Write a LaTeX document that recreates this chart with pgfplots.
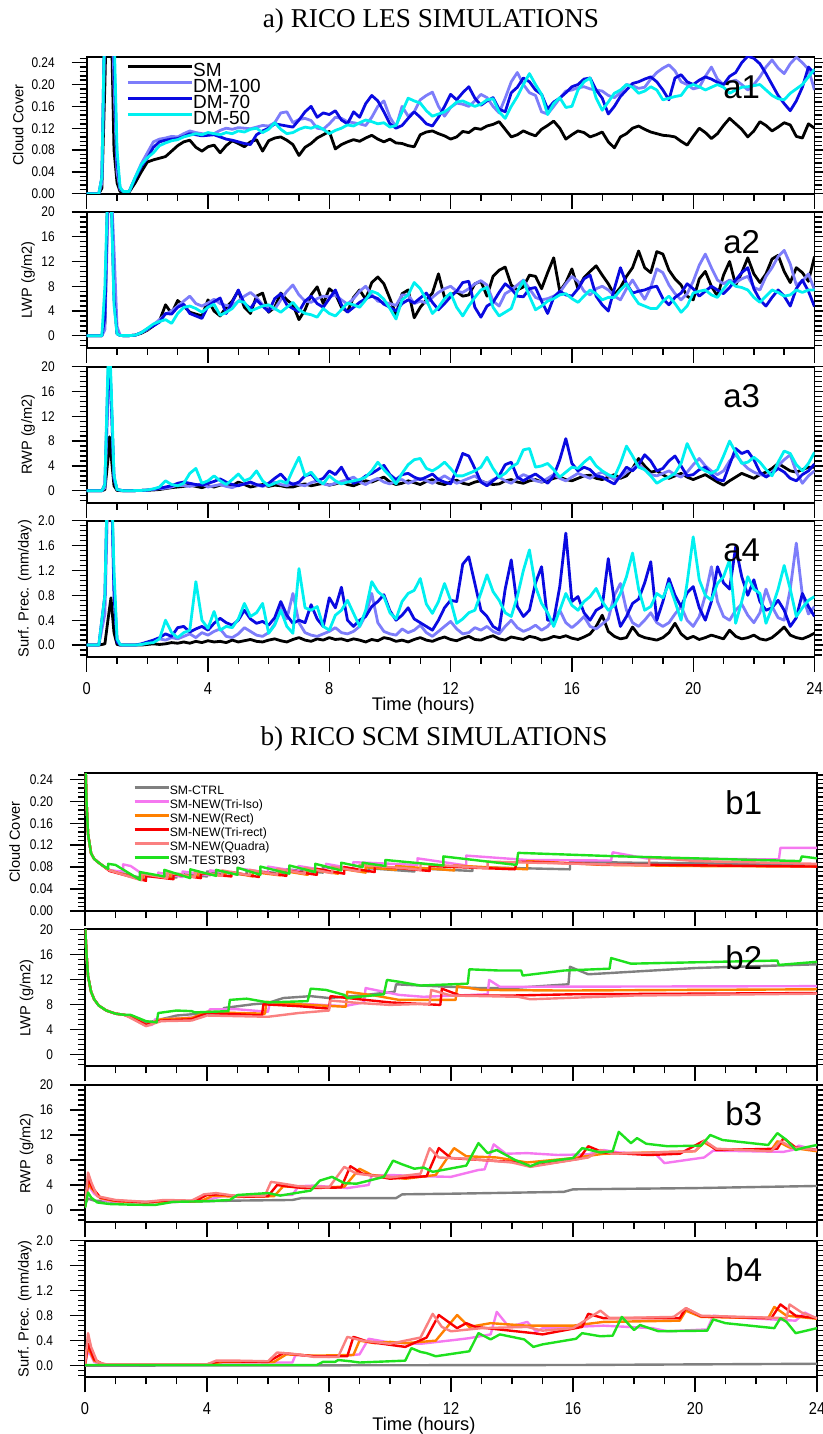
\documentclass[border=0pt]{standalone}
\usepackage{fontspec}
\setmainfont{Liberation Sans}
\newfontfamily\nclfont[FakeStretch=0.85]{Liberation Sans}
\newfontfamily\titlefont{Liberation Serif}
\usepackage{pgfplots}
\usepackage{pgfplotstable}
\pgfplotsset{compat=1.18}

\definecolor{cSM}{RGB}{0,0,0}
\definecolor{cD100}{RGB}{125,125,250}
\definecolor{cD70}{RGB}{10,10,225}
\definecolor{cD50}{RGB}{0,240,240}
\definecolor{cCTRL}{RGB}{128,128,128}
\definecolor{cIso}{RGB}{245,120,240}
\definecolor{cRect}{RGB}{255,128,0}
\definecolor{cTriR}{RGB}{250,0,0}
\definecolor{cQuad}{RGB}{250,128,128}
\definecolor{cB93}{RGB}{30,225,30}

% ---------------- LES time series (hours) ----------------
\pgfplotstableread{
t sm d100 d70 d50
0 0 0 0 0
0.4 0 0 0 0
0.5 0.01 0.02 0.03 0.03
0.6 0.2 0.3 0.35 0.35
0.7 0.45 0.5 0.55 0.55
0.8 0.35 0.45 0.5 0.5
0.9 0.08 0.2 0.25 0.3
1.0 0.02 0.04 0.06 0.08
1.1 0.004 0.008 0.01 0.012
1.2 0.003 0.004 0.004 0.004
1.4 0.003 0.004 0.004 0.004
1.6 0.02 0.03 0.028 0.03
1.8 0.04 0.055 0.05 0.053
2.0 0.058 0.075 0.065 0.066
2.2 0.062 0.095 0.085 0.075
2.4 0.065 0.100 0.095 0.088
2.6 0.068 0.102 0.098 0.093
2.8 0.078 0.105 0.100 0.097
3.0 0.088 0.104 0.101 0.099
3.2 0.095 0.110 0.105 0.104
3.4 0.098 0.115 0.110 0.107
3.6 0.085 0.112 0.108 0.110
3.8 0.078 0.110 0.106 0.108
4.0 0.086 0.108 0.107 0.112
4.2 0.089 0.110 0.108 0.110
4.4 0.075 0.116 0.104 0.108
4.6 0.088 0.120 0.100 0.112
4.8 0.097 0.118 0.098 0.110
5.0 0.092 0.121 0.095 0.115
5.2 0.086 0.120 0.092 0.113
5.4 0.095 0.119 0.090 0.118
5.6 0.099 0.122 0.108 0.120
5.8 0.078 0.125 0.115 0.112
6.0 0.097 0.124 0.120 0.118
6.2 0.102 0.130 0.128 0.130
6.4 0.104 0.148 0.126 0.118
6.6 0.098 0.150 0.124 0.110
6.8 0.090 0.130 0.122 0.112
7.0 0.070 0.136 0.135 0.118
7.2 0.085 0.138 0.150 0.122
7.4 0.092 0.134 0.160 0.120
7.6 0.102 0.120 0.140 0.124
7.8 0.108 0.118 0.148 0.118
8.0 0.114 0.128 0.145 0.110
8.2 0.082 0.140 0.152 0.116
8.4 0.090 0.138 0.135 0.120
8.6 0.095 0.132 0.128 0.126
8.8 0.099 0.130 0.150 0.124
9.0 0.096 0.128 0.140 0.130
9.2 0.102 0.125 0.165 0.135
9.4 0.107 0.140 0.180 0.132
9.6 0.100 0.160 0.170 0.128
9.8 0.095 0.170 0.150 0.130
10.0 0.100 0.140 0.128 0.122
10.2 0.093 0.122 0.120 0.125
10.4 0.092 0.160 0.125 0.150
10.6 0.088 0.142 0.138 0.175
10.8 0.086 0.150 0.150 0.170
11.0 0.108 0.172 0.140 0.166
11.2 0.113 0.180 0.128 0.152
11.4 0.115 0.186 0.124 0.142
11.6 0.110 0.160 0.140 0.146
11.8 0.106 0.142 0.160 0.150
12.0 0.100 0.158 0.182 0.158
12.2 0.104 0.166 0.172 0.168
12.4 0.114 0.164 0.185 0.170
12.6 0.112 0.160 0.196 0.165
12.8 0.120 0.170 0.175 0.160
13.0 0.118 0.182 0.162 0.164
13.2 0.124 0.176 0.170 0.172
13.4 0.127 0.160 0.176 0.174
13.6 0.132 0.148 0.155 0.150
13.8 0.118 0.175 0.150 0.138
14.0 0.104 0.205 0.185 0.160
14.2 0.108 0.222 0.195 0.178
14.4 0.115 0.200 0.212 0.200
14.6 0.110 0.185 0.205 0.220
14.8 0.106 0.180 0.190 0.200
15.0 0.118 0.150 0.182 0.182
15.2 0.125 0.146 0.155 0.145
15.4 0.133 0.160 0.168 0.165
15.6 0.120 0.175 0.175 0.176
15.8 0.100 0.188 0.185 0.158
16.0 0.108 0.190 0.196 0.160
16.2 0.115 0.194 0.200 0.190
16.4 0.112 0.196 0.210 0.205
16.6 0.104 0.192 0.212 0.212
16.8 0.108 0.190 0.190 0.175
17.0 0.113 0.188 0.175 0.153
17.2 0.095 0.180 0.146 0.168
17.4 0.084 0.176 0.160 0.184
17.6 0.104 0.185 0.178 0.190
17.8 0.110 0.200 0.190 0.200
18.0 0.120 0.198 0.202 0.195
18.2 0.124 0.193 0.205 0.184
18.4 0.118 0.195 0.210 0.188
18.6 0.113 0.210 0.214 0.196
18.8 0.110 0.222 0.205 0.190
19.0 0.107 0.230 0.190 0.172
19.2 0.106 0.236 0.172 0.175
19.4 0.104 0.225 0.212 0.178
19.6 0.096 0.205 0.218 0.180
19.8 0.089 0.200 0.205 0.195
20.0 0.105 0.192 0.200 0.200
20.2 0.120 0.195 0.208 0.196
20.4 0.112 0.215 0.214 0.190
20.6 0.101 0.232 0.210 0.195
20.8 0.110 0.210 0.204 0.200
21.0 0.125 0.200 0.200 0.195
21.2 0.138 0.205 0.215 0.184
21.4 0.128 0.208 0.222 0.190
21.6 0.118 0.200 0.240 0.195
21.8 0.104 0.190 0.252 0.196
22.0 0.115 0.200 0.248 0.198
22.2 0.132 0.214 0.238 0.200
22.4 0.125 0.232 0.220 0.190
22.6 0.115 0.245 0.200 0.180
22.8 0.122 0.230 0.180 0.174
23.0 0.130 0.220 0.165 0.172
23.2 0.126 0.238 0.152 0.184
23.4 0.105 0.250 0.170 0.192
23.6 0.102 0.240 0.195 0.200
23.8 0.128 0.228 0.232 0.214
24.0 0.120 0.190 0.220 0.228
}\lesCC

\pgfplotstableread{
t sm d100 d70 d50
0 0 0 0 0
0.4 0 0 0 0
0.5 0 0 0 0
0.6 2 1 3 8
0.7 24 20 25 25
0.8 26 25 25 24
0.9 8 14 6 5
1.0 0.4 1.5 0.3 0.3
1.1 0.05 0.1 0.05 0.05
1.2 0.02 0.02 0.02 0.02
1.4 0.02 0.02 0.02 0.02
1.6 0.1 0.1 0.1 0.1
1.8 0.4 0.5 0.5 0.5
2.0 0.9 1.0 1.1 1.2
2.2 1.6 1.8 1.6 1.9
2.4 2.4 2.6 2.2 2.3
2.6 5.0 3.5 3.6 2.6
2.8 3.6 4.0 3.5 2.0
3.0 5.7 4.8 4.6 3.6
3.2 4.8 5.6 5.1 4.6
3.4 3.8 6.4 3.6 4.8
3.6 3.5 5.2 3.2 4.4
3.8 3.2 4.8 2.8 3.8
4.0 5.8 5.3 4.8 4.6
4.2 4.0 5.9 5.5 5.1
4.4 3.2 5.2 6.1 3.3
4.6 4.6 4.9 3.6 3.8
4.8 5.6 4.8 5.4 4.4
5.0 7.3 5.6 7.4 5.6
5.2 4.6 6.4 5.2 5.4
5.4 3.6 7.0 4.4 4.0
5.6 6.4 6.2 5.8 4.4
5.8 6.9 5.0 4.8 4.8
6.0 3.8 4.6 3.9 5.0
6.2 4.6 4.3 6.0 4.4
6.4 6.9 5.8 6.8 3.8
6.6 5.8 7.2 5.0 4.6
6.8 5.0 8.2 4.4 5.4
7.0 2.6 6.6 3.9 4.2
7.2 4.2 5.6 5.6 3.6
7.4 6.6 5.4 6.4 3.4
7.6 7.9 6.0 5.2 3.0
7.8 5.2 6.4 4.6 4.4
8.0 7.6 6.3 6.0 3.6
8.2 6.8 6.6 7.4 3.2
8.4 4.6 5.8 5.0 4.2
8.6 3.9 5.1 3.8 5.3
8.8 6.2 6.0 4.6 5.0
9.0 7.4 7.2 5.4 4.6
9.2 5.9 8.0 6.0 5.8
9.4 8.6 6.6 6.4 7.2
9.6 9.5 5.6 6.0 6.8
9.8 8.4 5.4 5.1 5.9
10.0 6.0 5.2 4.6 4.4
10.2 3.4 4.9 4.0 2.7
10.4 6.8 6.6 5.2 5.8
10.6 7.4 6.6 5.8 6.6
10.8 2.9 5.2 5.3 8.6
11.0 4.6 5.6 6.1 7.6
11.2 5.8 5.3 6.9 5.8
11.4 6.9 6.2 5.4 3.6
11.6 10.0 7.0 4.2 4.6
11.8 6.2 7.6 5.2 6.0
12.0 6.6 8.0 6.3 6.9
12.2 7.1 7.2 7.2 4.6
12.4 6.4 7.0 8.6 3.2
12.6 6.6 7.6 8.8 4.8
12.8 8.4 8.4 4.6 6.2
13.0 8.8 8.9 3.0 7.4
13.2 6.4 8.2 4.8 7.8
13.4 9.6 5.6 5.4 4.6
13.6 10.6 4.8 7.0 3.2
13.8 11.1 6.8 8.4 3.8
14.0 8.2 7.4 7.6 4.4
14.2 7.4 8.2 6.4 7.2
14.4 7.9 9.0 6.3 8.9
14.6 9.8 7.6 7.6 6.4
14.8 9.6 6.2 7.8 4.2
15.0 7.6 5.8 5.6 4.8
15.2 10.2 6.0 3.6 5.6
15.4 12.6 6.4 6.2 6.0
15.6 7.2 7.0 7.2 6.6
15.8 8.6 8.4 6.6 6.8
16.0 10.8 9.6 6.4 6.0
16.2 7.6 8.8 7.6 5.4
16.4 9.4 7.2 9.2 6.4
16.6 10.4 6.6 9.8 7.4
16.8 11.3 7.6 6.4 6.8
17.0 9.8 8.0 5.0 5.8
17.2 8.4 7.4 4.0 6.2
17.4 6.6 6.4 7.6 6.2
17.6 7.8 5.8 11.0 7.4
17.8 9.6 7.6 8.4 8.4
18.0 11.0 9.0 6.9 6.6
18.2 13.7 7.4 7.2 5.2
18.4 11.0 5.9 7.4 4.8
18.6 10.2 7.8 7.8 4.4
18.8 13.6 10.8 8.0 4.4
19.0 13.2 10.2 6.0 5.6
19.2 10.6 8.2 5.0 6.4
19.4 9.2 6.8 6.2 5.2
19.6 8.2 5.8 6.9 3.8
19.8 6.4 6.8 8.4 4.8
20.0 5.8 8.8 7.6 6.9
20.2 9.2 11.4 6.4 7.2
20.4 10.4 13.2 7.2 7.4
20.6 8.0 11.0 8.0 6.6
20.8 6.4 9.0 7.4 6.2
21.0 9.8 8.4 6.8 7.6
21.2 12.0 9.0 7.8 8.8
21.4 8.2 8.6 9.0 8.0
21.6 10.2 9.2 10.2 7.8
21.8 12.6 9.6 11.0 7.4
22.0 10.0 7.8 7.6 6.2
22.2 8.6 7.4 5.8 5.4
22.4 10.0 9.6 4.8 6.4
22.6 12.4 11.0 6.2 7.4
22.8 13.0 12.8 7.4 7.0
23.0 10.4 13.8 6.4 6.4
23.2 8.6 11.6 4.8 6.6
23.4 11.0 8.2 7.6 7.4
23.6 10.2 8.8 9.0 7.0
23.8 8.8 10.0 7.2 7.4
24.0 12.8 7.4 4.7 7.4
}\lesLWP

\pgfplotstableread{
t sm d100 d70 d50
0 0 0 0 0
0.5 0 0 0 0
0.6 0.2 0.5 1 1
0.7 5 14 18 20
0.75 8.7 21 22 24
0.8 6 16 16 18
0.9 0.8 2 2 2.5
1.0 0.05 0.2 0.2 0.2
1.2 0 0 0 0
1.4 0 0 0 0
1.6 0.02 0.02 0.02 0.02
1.8 0.05 0.05 0.05 0.05
2.0 0.08 0.1 0.1 0.12
2.2 0.12 0.2 0.25 0.3
2.4 0.2 0.35 0.4 0.6
2.6 0.35 0.4 0.6 1.6
2.8 0.5 0.6 0.8 1.0
3.0 0.6 0.9 1.2 0.8
3.2 0.7 0.8 1.4 1.2
3.4 0.9 0.7 1.2 2.8
3.6 0.7 0.9 1.0 3.6
3.8 0.5 1.1 0.9 1.2
4.0 0.8 0.6 1.2 1.6
4.2 0.6 0.8 1.5 2.4
4.4 0.9 1.0 1.9 1.6
4.6 1.0 0.7 1.4 1.0
4.8 0.8 0.5 1.0 1.8
5.0 1.4 0.9 0.8 2.7
5.2 1.0 1.1 1.1 1.6
5.4 0.6 1.3 1.4 2.0
5.6 0.8 0.9 1.0 3.2
5.8 1.0 0.7 0.8 1.6
6.0 0.7 1.0 1.2 0.8
6.2 0.9 1.4 2.0 1.2
6.4 0.8 1.0 2.7 1.6
6.6 0.6 0.8 1.6 1.2
6.8 0.6 1.2 1.0 3.4
7.0 0.9 1.0 1.4 5.4
7.2 1.1 0.8 2.4 2.4
7.4 0.8 1.3 2.7 3.0
7.6 1.0 1.6 1.6 1.8
7.8 1.2 1.1 2.0 1.1
8.0 0.9 0.9 3.2 2.4
8.2 1.1 1.2 2.6 1.6
8.4 1.4 1.5 3.8 1.1
8.6 1.0 1.8 2.0 1.4
8.8 0.8 2.2 1.2 1.6
9.0 1.2 1.4 1.6 1.8
9.2 1.6 1.0 2.4 2.2
9.4 1.4 1.6 2.8 3.2
9.6 1.8 2.0 3.4 4.6
9.8 2.2 1.4 4.1 3.4
10.0 1.4 1.1 2.6 2.4
10.2 1.0 1.6 1.8 1.1
10.4 1.2 1.8 2.6 2.8
10.6 1.6 1.2 2.8 4.2
10.8 1.3 1.6 2.2 5.0
11.0 1.0 2.0 1.8 5.2
11.2 1.5 1.6 2.2 3.6
11.4 1.8 1.2 2.7 3.2
11.6 1.2 1.8 1.8 3.8
11.8 1.0 2.4 1.4 4.6
12.0 1.4 1.8 1.1 3.6
12.2 1.7 1.2 3.4 2.4
12.4 1.2 1.6 6.0 2.4
12.6 1.0 2.0 5.6 2.8
12.8 1.4 2.4 3.6 3.2
13.0 1.6 1.6 1.4 3.8
13.2 1.2 1.2 0.8 5.4
13.4 1.0 1.8 1.6 3.6
13.6 1.1 2.2 2.4 2.2
13.8 1.6 1.6 4.2 2.8
14.0 1.8 1.2 4.6 3.8
14.2 1.4 2.0 2.2 4.4
14.4 1.2 2.6 1.6 6.6
14.6 1.6 2.2 2.2 6.8
14.8 1.8 1.6 2.7 3.8
15.0 1.4 1.4 2.0 4.0
15.2 1.6 2.0 1.2 4.4
15.4 2.0 2.6 2.4 3.4
15.6 2.2 2.0 5.0 2.2
15.8 1.8 1.6 8.4 3.0
16.0 1.6 2.2 4.4 3.8
16.2 2.0 2.8 3.2 3.6
16.4 2.4 2.4 3.8 4.6
16.6 2.5 2.0 3.4 5.4
16.8 2.0 2.6 2.4 4.0
17.0 1.8 3.0 2.2 3.2
17.2 2.2 2.4 1.6 2.6
17.4 2.6 1.8 1.1 2.2
17.6 2.0 2.2 2.4 4.4
17.8 2.4 3.0 3.8 7.2
18.0 3.6 3.6 3.2 5.6
18.2 5.2 4.3 4.2 3.8
18.4 4.0 3.4 5.8 3.4
18.6 3.0 2.6 4.8 2.4
18.8 3.2 2.4 3.2 1.2
19.0 2.6 2.8 3.6 1.8
19.2 2.0 3.2 4.8 2.2
19.4 2.4 2.6 5.6 2.8
19.6 2.8 2.2 4.0 4.4
19.8 2.2 3.0 2.4 7.6
20.0 1.8 4.2 2.6 5.6
20.2 2.2 5.2 3.4 3.8
20.4 2.6 4.0 3.8 3.2
20.6 2.0 3.2 2.6 2.8
20.8 1.4 2.6 1.8 3.4
21.0 0.9 3.2 1.6 5.6
21.2 1.6 4.8 4.2 8.0
21.4 2.2 5.8 6.8 6.2
21.6 2.8 4.6 6.0 4.4
21.8 2.4 3.6 6.4 4.6
22.0 2.0 3.0 5.0 5.4
22.2 2.6 2.6 3.0 4.6
22.4 3.0 2.4 2.2 3.4
22.6 3.6 3.0 2.8 2.4
22.8 4.4 4.0 3.6 4.6
23.0 3.8 5.0 3.0 6.4
23.2 3.2 5.8 2.0 6.0
23.4 3.0 3.0 1.6 4.2
23.6 3.4 1.2 2.6 3.2
23.8 3.8 2.4 3.2 4.4
24.0 3.8 3.2 4.3 6.2
}\lesRWP

\pgfplotstableread{
t sm d100 d70 d50
0 0 0 0 0
0.4 0 0 0 0
0.6 0.02 0.5 0.8 0.8
0.7 0.4 2.5 3 3
0.8 0.76 3 3 3
0.9 0.2 1.0 0.8 1.2
1.0 0.01 0.1 0.05 0.1
1.1 0 0.01 0 0.01
1.2 0 0 0 0
1.4 0 0 0 0
1.6 0 0 0 0
1.8 0 0.01 0.02 0.01
2.0 0.01 0.03 0.05 0.03
2.2 0.02 0.06 0.08 0.04
2.4 0.01 0.10 0.12 0.1
2.6 0.02 0.08 0.18 0.40
2.8 0.04 0.12 0.14 0.2
3.0 0.03 0.10 0.28 0.12
3.2 0.05 0.14 0.30 0.2
3.4 0.03 0.18 0.21 0.24
3.6 0.06 0.12 0.26 1.02
3.8 0.04 0.2 0.30 0.40
4.0 0.07 0.16 0.24 0.27
4.2 0.05 0.22 0.35 0.54
4.4 0.06 0.26 0.43 0.24
4.6 0.04 0.14 0.36 0.3
4.8 0.08 0.12 0.32 0.28
5.0 0.05 0.18 0.40 0.42
5.2 0.07 0.28 0.56 0.67
5.4 0.09 0.22 0.42 0.46
5.6 0.06 0.16 0.35 0.52
5.8 0.05 0.14 0.38 0.67
6.0 0.08 0.2 0.32 0.19
6.2 0.1 0.34 0.44 0.32
6.4 0.07 0.62 0.70 0.56
6.6 0.05 0.42 0.48 0.30
6.8 0.09 0.83 0.35 0.19
7.0 0.12 0.36 0.40 1.23
7.2 0.08 0.2 0.36 0.6
7.4 0.06 0.16 0.65 0.56
7.6 0.1 0.14 0.42 0.62
7.8 0.08 0.18 0.30 0.3
8.0 0.12 0.22 0.76 0.24
8.2 0.09 0.28 0.60 0.48
8.4 0.1 0.2 0.93 0.56
8.6 0.07 0.18 0.40 0.72
8.8 0.1 0.22 0.30 0.51
9.0 0.08 0.3 0.40 0.30
9.2 0.05 0.48 0.46 0.56
9.4 0.09 0.83 0.62 1.02
9.6 0.07 0.36 0.70 0.86
9.8 0.12 0.22 0.81 0.78
10.0 0.1 0.18 0.55 0.52
10.2 0.06 0.16 0.40 0.42
10.4 0.08 0.26 0.48 0.70
10.6 0.05 0.2 0.60 0.83
10.8 0.09 0.24 0.42 0.88
11.0 0.12 0.32 0.36 1.07
11.2 0.08 0.2 0.30 0.66
11.4 0.06 0.14 0.24 0.51
11.6 0.1 0.22 0.40 0.70
11.8 0.13 0.3 0.60 0.99
12.0 0.09 0.38 0.72 0.72
12.2 0.07 0.26 0.70 0.35
12.4 0.11 0.18 1.30 0.42
12.6 0.14 0.2 1.42 0.52
12.8 0.09 0.28 0.99 0.56
13.0 0.08 0.24 0.56 0.84
13.2 0.12 0.3 0.46 1.13
13.4 0.15 0.22 0.30 0.86
13.6 0.1 0.18 0.24 0.72
13.8 0.08 0.3 0.90 0.52
14.0 0.13 0.4 1.37 0.46
14.2 0.11 0.28 0.62 0.78
14.4 0.09 0.22 0.46 1.20
14.6 0.14 0.26 0.56 1.53
14.8 0.12 0.32 1.00 0.94
15.0 0.08 0.24 1.26 0.67
15.2 0.1 0.3 0.40 0.52
15.4 0.14 0.42 0.40 0.30
15.6 0.12 0.56 0.94 0.56
15.8 0.15 0.36 1.80 0.83
16.0 0.11 0.28 0.70 0.64
16.2 0.09 0.36 0.78 0.56
16.4 0.13 0.46 0.52 0.70
16.6 0.18 0.3 0.40 0.78
16.8 0.3 0.26 0.56 0.91
17.0 0.48 0.34 0.62 0.70
17.2 0.22 0.42 1.39 0.56
17.4 0.14 0.8 0.70 0.64
17.6 0.1 0.99 0.30 0.83
17.8 0.12 0.56 0.46 1.10
18.0 0.29 0.36 0.67 1.48
18.2 0.16 0.3 0.74 0.90
18.4 0.12 0.4 1.00 0.56
18.6 0.1 0.52 1.34 0.62
18.8 0.08 0.36 0.40 0.83
19.0 0.12 0.3 0.70 0.76
19.2 0.2 0.36 1.07 0.99
19.4 0.35 0.5 0.80 0.70
19.6 0.18 0.62 0.62 0.40
19.8 0.1 0.4 0.84 1.00
20.0 0.14 0.3 0.94 1.74
20.2 0.09 0.46 0.60 1.05
20.4 0.12 0.8 0.40 0.80
20.6 0.16 1.26 0.70 0.72
20.8 0.13 0.7 1.26 0.99
21.0 0.1 0.46 1.00 1.10
21.2 0.24 0.4 0.90 1.37
21.4 0.14 0.56 1.58 0.35
21.6 0.1 0.66 1.10 0.70
21.8 0.12 0.48 0.80 1.10
22.0 0.16 0.36 1.05 0.90
22.2 0.1 0.52 0.70 0.83
22.4 0.08 0.9 0.56 0.35
22.6 0.12 0.62 0.60 0.60
22.8 0.2 0.44 0.72 0.90
23.0 0.29 0.4 0.56 1.28
23.2 0.16 0.9 0.30 0.90
23.4 0.12 1.64 0.44 0.46
23.6 0.1 0.8 0.83 0.60
23.8 0.14 0.5 0.62 0.72
24.0 0.19 0.62 0.46 0.78
}\lesPrec

\tikzset{plab/.style={font=\fontsize{16.5}{17}\selectfont}}

\pgfplotsset{
  ncl/.style={
    scale only axis, anchor=north west,
    xmin=0, xmax=24,
    xtick={0,4,8,12,16,20,24}, minor xtick={0,1,...,24},
    xtick pos=left, ytick pos=both,
    tick align=outside,
    major tick length=7.5pt, minor tick length=3.5pt,
    axis line style={line width=0.9pt},
    tick style={black, line width=0.7pt},
    xticklabels={},
    yticklabel style={font=\nclfont\fontsize{7}{8}\selectfont, anchor=east, inner sep=0pt, xshift=-8.3pt},
    xticklabel style={font=\nclfont\fontsize{8.6}{9}\selectfont, anchor=base, inner sep=0pt, yshift=-11.2pt},
    ylabel style={font=\fontsize{7.3}{8}\selectfont, anchor=base, inner sep=0pt},
    every axis plot/.append style={line join=round},
  },
  les/.style={line width=1.4pt},
  scm/.style={line width=1.2pt},
  ylpos/.style={ylabel style={at={(axis description cs:#1,0.5)}}},
  ccaxis/.style={ymin=0, ymax=0.251, ytick={0,0.04,0.08,0.12,0.16,0.2,0.24},
    yticklabels={0.00,0.04,0.08,0.12,0.16,0.20,0.24}, minor ytick={0,0.008,...,0.25},
    ylabel={Cloud Cover}},
  lwpaxis/.style={ymin=-1.93, ymax=20, ytick={0,4,8,12,16,20},
    yticklabels={0,4,8,12,16,20}, minor ytick={-1.6,-0.8,...,20}, ylabel={LWP (g/m2)}},
  rwpaxis/.style={ymin=-1.93, ymax=20, ytick={0,4,8,12,16,20},
    yticklabels={0,4,8,12,16,20}, minor ytick={-1.6,-0.8,...,20}, ylabel={RWP (g/m2)}},
  praxis/.style={ymin=-0.187, ymax=2, ytick={0,0.4,0.8,1.2,1.6,2},
    yticklabels={0.0,0.4,0.8,1.2,1.6,2.0}, minor ytick={-0.16,-0.08,...,2}, ylabel={Surf. Prec. (mm/day)}},
  timeaxis/.style={xticklabels={0,4,8,12,16,20,24}, xlabel={Time (hours)},
    xlabel style={font=\fontsize{9.15}{10}\selectfont, at={(axis description cs:#1,0)}, anchor=base, inner sep=0pt, yshift=-26.8pt}},
}

\begin{document}
\begin{tikzpicture}
% ---------------- a) LES ----------------
\node[anchor=base, font=\titlefont\fontsize{13.6}{15}\selectfont] at (215.5pt,-14pt) {a) RICO LES SIMULATIONS};

\begin{axis}[ncl, ccaxis, ylpos=-0.0871, at={(43.35pt,-28.35pt)}, width=363.9pt, height=68.5pt,
  legend entries={SM,DM-100,DM-70,DM-50},
  legend cell align=left,
  legend image code/.code={\draw[#1] (0pt,3.3pt) -- (32pt,3.3pt);},
  legend style={draw=none, fill=none, at={(0.054,0.944)}, anchor=north west,
    font=\fontsize{9.5}{9.5}\selectfont, row sep=0pt, inner sep=0pt,
    nodes={inner sep=0pt, text height=6pt, text depth=2pt}}]
\addplot[les, cSM] table[x=t, y=sm] {\lesCC};
\addplot[les, cD100] table[x=t, y=d100] {\lesCC};
\addplot[les, cD70] table[x=t, y=d70] {\lesCC};
\addplot[les, cD50] table[x=t, y=d50] {\lesCC};
\node[plab] at (axis description cs:0.9,0.78) {a1};
\end{axis}

\begin{axis}[ncl, lwpaxis, ylpos=-0.0752, at={(43.35pt,-106pt)}, width=363.9pt, height=67.85pt]
\addplot[les, cSM] table[x=t, y=sm] {\lesLWP};
\addplot[les, cD100] table[x=t, y=d100] {\lesLWP};
\addplot[les, cD70] table[x=t, y=d70] {\lesLWP};
\addplot[les, cD50] table[x=t, y=d50] {\lesLWP};
\node[plab] at (axis description cs:0.9,0.78) {a2};
\end{axis}

\begin{axis}[ncl, rwpaxis, ylpos=-0.0752, at={(43.35pt,-183.35pt)}, width=363.9pt, height=68pt]
\addplot[les, cSM] table[x=t, y=sm] {\lesRWP};
\addplot[les, cD100] table[x=t, y=d100] {\lesRWP};
\addplot[les, cD70] table[x=t, y=d70] {\lesRWP};
\addplot[les, cD50] table[x=t, y=d50] {\lesRWP};
\node[plab] at (axis description cs:0.9,0.78) {a3};
\end{axis}

\begin{axis}[ncl, praxis, ylpos=-0.0797, timeaxis=0.4625, at={(43.35pt,-260.35pt)}, width=363.9pt, height=68pt]
\addplot[les, cSM] table[x=t, y=sm] {\lesPrec};
\addplot[les, cD100] table[x=t, y=d100] {\lesPrec};
\addplot[les, cD70] table[x=t, y=d70] {\lesPrec};
\addplot[les, cD50] table[x=t, y=d50] {\lesPrec};
\node[plab] at (axis description cs:0.9,0.78) {a4};
\end{axis}

% ---------------- b) SCM ----------------
\node[anchor=base, font=\titlefont\fontsize{13.6}{15}\selectfont] at (217pt,-372.5pt) {b) RICO SCM SIMULATIONS};

\begin{axis}[ncl, ccaxis, ylpos=-0.0888, at={(42.5pt,-386.65pt)}, width=366pt, height=68.85pt,
  legend entries={SM-CTRL,SM-NEW(Tri-Iso),SM-NEW(Rect),SM-NEW(Tri-rect),SM-NEW(Quadra),SM-TESTB93},
  legend cell align=left,
  legend image code/.code={\draw[#1] (0pt,2.2pt) -- (17pt,2.2pt);},
  legend style={draw=none, fill=none, at={(0.0656,0.92)}, anchor=north west,
    font=\fontsize{6.1}{6.1}\selectfont, row sep=0pt, inner sep=0pt,
    nodes={inner sep=0pt, text height=5pt, text depth=2pt}}]
\addplot[scm, cCTRL] coordinates {(0,0.30) (0.05,0.20) (0.1,0.14) (0.2,0.105) (0.3,0.095) (0.45,0.088) (0.6,0.082) (0.8,0.075) (2.0,0.058) (2.0,0.066) (3.0,0.061) (3.0,0.068) (4.0,0.063) (4.0,0.072) (5.3,0.066) (5.3,0.074) (6.6,0.068) (6.6,0.076) (7.8,0.070) (7.8,0.080) (9.3,0.072) (9.3,0.078) (10.8,0.072) (10.8,0.078) (12.7,0.073) (12.7,0.080) (15.9,0.076) (15.9,0.090) (18,0.088) (24,0.085)};
\addplot[scm, cIso] coordinates {(0,0.30) (0.05,0.20) (0.1,0.14) (0.2,0.105) (0.3,0.095) (0.45,0.088) (0.6,0.082) (0.8,0.074) (1.25,0.072) (1.25,0.085) (1.5,0.082) (2.0,0.063) (2.4,0.062) (2.4,0.070) (3.2,0.062) (3.2,0.072) (4.1,0.065) (4.1,0.074) (5.0,0.068) (5.0,0.078) (6.0,0.070) (6.0,0.081) (7.0,0.072) (7.0,0.082) (7.9,0.074) (7.9,0.086) (8.8,0.077) (8.8,0.089) (10.9,0.084) (10.9,0.096) (12.5,0.083) (12.5,0.101) (14.5,0.093) (17.25,0.092) (17.3,0.107) (18.4,0.096) (22.75,0.094) (22.8,0.115) (24,0.115)};
\addplot[scm, cRect] coordinates {(0,0.30) (0.05,0.20) (0.1,0.14) (0.2,0.105) (0.3,0.095) (0.45,0.088) (0.6,0.082) (0.8,0.074) (1.9,0.057) (1.9,0.066) (2.8,0.060) (2.8,0.068) (3.7,0.062) (3.7,0.070) (4.6,0.064) (4.6,0.072) (5.5,0.063) (5.5,0.071) (6.4,0.065) (6.4,0.074) (7.3,0.066) (7.3,0.076) (8.3,0.068) (8.3,0.078) (9.2,0.070) (9.2,0.080) (10.2,0.075) (10.2,0.082) (12.1,0.074) (12.1,0.083) (14.5,0.076) (14.5,0.091) (17,0.084) (20,0.082) (24,0.081)};
\addplot[scm, cTriR] coordinates {(0,0.30) (0.05,0.20) (0.1,0.14) (0.2,0.105) (0.3,0.095) (0.45,0.088) (0.6,0.082) (0.8,0.073) (2.0,0.055) (2.0,0.064) (2.9,0.058) (2.9,0.067) (3.8,0.060) (3.8,0.069) (4.8,0.063) (4.8,0.071) (5.7,0.062) (5.7,0.072) (6.6,0.064) (6.6,0.074) (7.6,0.066) (7.6,0.077) (8.5,0.068) (8.5,0.080) (9.5,0.071) (9.5,0.082) (11.3,0.073) (11.3,0.082) (14.1,0.076) (14.15,0.090) (17,0.085) (24,0.081)};
\addplot[scm, cQuad] coordinates {(0,0.30) (0.05,0.20) (0.1,0.14) (0.2,0.105) (0.3,0.095) (0.45,0.088) (0.6,0.082) (0.8,0.074) (1.85,0.056) (1.85,0.068) (2.7,0.060) (2.7,0.070) (3.6,0.062) (3.6,0.072) (4.5,0.064) (4.5,0.074) (5.4,0.065) (5.4,0.075) (6.3,0.066) (6.3,0.077) (7.2,0.068) (7.2,0.079) (8.1,0.069) (8.1,0.081) (9.0,0.072) (9.0,0.084) (10.5,0.078) (11.0,0.075) (11.0,0.086) (13.2,0.078) (13.2,0.090) (18.5,0.083) (18.5,0.098) (20,0.091) (24,0.086)};
\addplot[scm, cB93] coordinates {(0,0.30) (0.05,0.20) (0.1,0.14) (0.2,0.105) (0.3,0.095) (0.45,0.088) (0.6,0.082) (0.76,0.077) (0.76,0.086) (1.0,0.084) (1.8,0.057) (1.8,0.071) (2.6,0.063) (2.6,0.075) (3.45,0.060) (3.45,0.076) (4.3,0.064) (4.3,0.075) (5.0,0.066) (5.0,0.079) (5.75,0.066) (5.75,0.081) (6.7,0.068) (6.7,0.083) (7.55,0.071) (7.55,0.086) (8.4,0.074) (8.4,0.088) (9.1,0.080) (9.1,0.088) (9.85,0.082) (9.85,0.093) (11.75,0.083) (11.75,0.0995) (14.15,0.084) (14.2,0.106) (17.3,0.100) (20,0.096) (23.45,0.091) (23.5,0.0995) (24,0.096)};
\node[plab] at (axis description cs:0.9,0.79) {b1};
\end{axis}

\begin{axis}[ncl, lwpaxis, ylpos=-0.0747, at={(42.5pt,-464.65pt)}, width=366pt, height=68.5pt]
\addplot[scm, cCTRL] coordinates {(0,21) (0.05,16) (0.1,12.5) (0.2,10) (0.3,8.8) (0.45,7.8) (0.7,7.0) (1.0,6.5) (1.3,6.3) (1.6,6.0) (2.0,5.0) (2.5,5.6) (3.0,6.2) (3.5,6.4) (4.5,6.6) (4.55,7.4) (5.5,8.0) (6.0,8.2) (6.5,9.0) (7.4,9.3) (8.0,9.0) (9.0,9.4) (10.15,10.0) (10.2,11.2) (11.0,11.0) (12.9,10.6) (14.0,10.6) (15.85,11.2) (15.9,14.0) (16.5,12.8) (20,13.8) (24,14.4)};
\addplot[scm, cIso] coordinates {(0,21) (0.05,16) (0.1,12.5) (0.2,10) (0.3,8.8) (0.45,7.8) (0.7,7.0) (1.0,6.5) (1.3,6.3) (1.5,6.0) (2.0,4.6) (2.2,4.7) (2.3,5.6) (3.0,5.7) (3.5,5.9) (4.0,6.4) (4.1,7.2) (5.0,7.2) (6.0,6.8) (6.05,8.0) (7.4,8.0) (8.5,7.7) (9.15,8.3) (9.2,10.6) (10.3,9.5) (11.1,9.2) (13.2,9.6) (13.25,11.9) (13.6,10.8) (24,10.9)};
\addplot[scm, cRect] coordinates {(0,21) (0.05,16) (0.1,12.5) (0.2,10) (0.3,8.8) (0.45,7.8) (0.7,7.0) (1.0,6.5) (1.3,6.3) (1.5,6.0) (2.0,4.7) (2.5,5.6) (3.5,5.8) (4.0,6.8) (5.0,6.6) (5.9,6.5) (5.95,8.4) (7.0,8.0) (8.55,7.6) (8.6,10.0) (9.5,9.4) (10.3,8.7) (12.15,8.7) (12.2,10.9) (13.0,10.3) (15.7,10.2) (20,10.3) (24,10.4)};
\addplot[scm, cTriR] coordinates {(0,21) (0.05,16) (0.1,12.5) (0.2,10) (0.3,8.8) (0.45,7.8) (0.7,7.0) (1.0,6.5) (1.3,6.3) (1.5,5.9) (2.0,4.7) (2.5,5.4) (3.5,5.6) (4.0,6.6) (5.0,6.4) (5.8,6.2) (5.85,8.0) (7.0,7.7) (8.0,7.3) (8.05,9.3) (9.0,8.8) (10.0,8.3) (11.65,7.9) (11.7,10.5) (12.3,9.4) (14,9.4) (16,9.6) (24,9.8)};
\addplot[scm, cQuad] coordinates {(0,21) (0.05,16) (0.1,12.5) (0.2,10) (0.3,8.8) (0.45,7.8) (0.7,7.0) (1.0,6.5) (1.3,6.3) (1.5,5.8) (2.0,4.5) (2.5,5.3) (3.5,5.4) (4.0,6.2) (5.0,6.1) (6.0,6.0) (7.0,6.6) (8.0,7.0) (8.05,8.6) (9.0,8.2) (10,7.9) (11.3,8.1) (11.35,10.3) (12.0,9.4) (14.2,9.2) (14.6,8.8) (18,9.4) (24,9.7)};
\addplot[scm, cB93] coordinates {(0,21) (0.05,16) (0.1,12.5) (0.2,10) (0.3,8.8) (0.45,7.8) (0.7,7.0) (1.0,6.5) (1.3,6.3) (1.5,6.3) (2.0,5.3) (2.35,5.1) (2.4,6.6) (3.0,7.0) (3.5,6.9) (3.6,6.7) (4.7,6.9) (4.75,8.7) (5.3,8.9) (6.0,8.3) (7.3,8.5) (7.4,10.5) (7.9,10.3) (8.5,9.5) (8.6,9.0) (9.8,9.6) (9.9,11.9) (10.3,11.6) (11.0,11.0) (12.55,11.3) (12.6,13.6) (13.6,13.4) (14.3,13.4) (14.35,12.6) (15.7,13.4) (17.2,13.7) (17.25,15.4) (17.9,14.5) (22.7,15.0) (22.75,14.3) (24,14.8)};
\node[plab] at (axis description cs:0.9,0.79) {b2};
\end{axis}

\begin{axis}[ncl, rwpaxis, ylpos=-0.0747, at={(42.5pt,-542.5pt)}, width=366pt, height=68.5pt]
\addplot[scm, cCTRL] coordinates {(0,1.0) (0.1,1.8) (0.3,1.5) (1,1.3) (3,1.3) (4,1.4) (5,1.5) (6.8,1.6) (7.1,1.9) (10.2,1.9) (10.4,2.5) (12,2.6) (15.7,2.9) (16,3.3) (20,3.5) (24,3.84)};
\addplot[scm, cIso] coordinates {(0,0.5) (0.1,4.0) (0.3,2.6) (0.6,1.6) (1,1.3) (2,1.2) (3,1.3) (4.0,1.6) (4.5,2.2) (6.0,2.4) (6.8,2.4) (7.0,3.8) (7.5,3.9) (8.6,3.5) (9.3,4.0) (9.4,5.5) (10,5.6) (11,5.4) (12.0,5.3) (12.9,6.4) (13.1,6.5) (13.4,10.5) (13.8,9.0) (14.5,9.1) (15.5,8.8) (16.5,8.9) (17.0,9.6) (17.5,9.2) (18.7,9.0) (19.0,7.5) (20.3,8.4) (20.6,9.5) (22.9,9.3) (23.2,9.6) (23.4,10.3) (24,9.6)};
\addplot[scm, cRect] coordinates {(0,0.5) (0.1,4.2) (0.3,3.0) (0.5,1.9) (1,1.4) (2,1.2) (2.8,1.4) (3.8,1.4) (4.2,2.3) (5.0,2.1) (6.2,2.2) (6.5,3.8) (7.0,3.6) (8.5,3.7) (9.0,6.6) (9.4,5.6) (10.5,5.0) (11.5,5.6) (12.1,9.9) (12.5,8.6) (13.5,8.4) (14.5,7.6) (16,8.3) (17,9.0) (20,9.4) (20.3,10.8) (20.7,9.7) (22.5,9.6) (22.7,11.0) (23.1,10.0) (24,9.4)};
\addplot[scm, cTriR] coordinates {(0,0.5) (0.1,5.0) (0.25,3.5) (0.5,2.0) (1,1.5) (2,1.2) (2.6,1.5) (3.6,1.4) (4.0,2.4) (4.4,2.5) (5.2,2.1) (6.0,2.2) (6.3,4.0) (6.6,3.8) (7.2,3.5) (8.4,3.6) (8.7,7.0) (9.1,5.8) (10,5.0) (11.2,5.4) (11.6,9.9) (12.0,8.3) (13,8.0) (14.3,7.6) (14.6,7.0) (16.2,8.2) (16.5,10.2) (17,9.2) (18.5,8.8) (19.5,9.0) (20.3,11.1) (20.7,9.6) (22.7,9.8) (22.9,11.5) (23.3,10.0) (24,9.6)};
\addplot[scm, cQuad] coordinates {(0,0.5) (0.1,6.0) (0.2,4.5) (0.4,2.2) (1.0,1.6) (2.0,1.3) (2.6,1.6) (3.5,1.5) (3.9,2.5) (4.3,2.7) (5.0,2.2) (5.9,2.3) (6.1,4.5) (6.5,4.2) (7.0,3.8) (8.0,3.6) (8.5,6.9) (8.9,5.8) (10,5.2) (11.0,5.8) (11.3,9.9) (11.6,8.4) (12.5,8.2) (14,7.6) (14.6,6.9) (16.5,8.4) (16.9,9.6) (17.3,9.0) (20.0,9.4) (20.3,11.1) (20.7,9.8) (22.5,9.4) (22.8,11.0) (23.2,10.0) (24,9.6)};
\addplot[scm, cB93] coordinates {(0,0.3) (0.1,2.8) (0.2,2.0) (0.4,1.2) (0.8,0.95) (1.5,0.85) (2.3,0.8) (2.9,1.3) (4.0,1.4) (4.75,1.6) (5.0,2.4) (6.0,2.7) (6.4,2.3) (7.4,3.1) (7.7,4.7) (8.1,5.3) (8.5,4.3) (8.9,4.2) (9.8,5.3) (10.1,7.9) (10.4,7.3) (10.8,6.6) (11.1,6.8) (11.4,6.1) (12.5,7.1) (12.9,10.7) (13.2,9.1) (13.5,9.6) (14.1,8.0) (14.6,7.0) (14.9,7.6) (16.0,8.3) (16.3,9.9) (16.9,9.2) (17.3,9.4) (17.5,12.5) (17.9,10.7) (18.1,11.5) (18.4,10.6) (19.1,10.2) (20.2,10.3) (20.5,12.0) (20.9,11.2) (22.4,10.4) (22.7,12.3) (23.0,11.2) (23.3,9.6) (23.6,10.0) (24,10.4)};
\node[plab] at (axis description cs:0.9,0.79) {b3};
\end{axis}

\begin{axis}[ncl, praxis, ylpos=-0.0769, timeaxis=0.463, at={(42.5pt,-620.35pt)}, width=366pt, height=68.3pt]
\addplot[scm, cCTRL] coordinates {(0,0) (16,0.01) (24,0.03)};
\addplot[scm, cIso] coordinates {(0,0.0) (0.1,0.25) (0.3,0.06) (0.6,0.01) (4,0.02) (4.5,0.05) (6.8,0.05) (6.9,0.17) (8.0,0.14) (9.0,0.18) (9.3,0.43) (10.0,0.37) (11,0.35) (12.1,0.41) (12.6,0.44) (13.3,0.5) (13.5,0.86) (13.9,0.62) (14.5,0.7) (14.8,0.54) (15,0.6) (16,0.62) (17,0.64) (18.6,0.6) (19.1,0.55) (20.4,0.58) (20.6,0.8) (21,0.78) (23.3,0.72) (23.6,0.85) (24,0.75)};
\addplot[scm, cRect] coordinates {(0,0.02) (0.1,0.3) (0.3,0.08) (0.6,0.02) (4,0.02) (4.5,0.06) (6.2,0.06) (6.6,0.18) (7.5,0.16) (8.8,0.17) (9.0,0.4) (9.5,0.36) (10,0.38) (10.5,0.36) (11.5,0.4) (12.2,0.81) (12.6,0.62) (13.3,0.68) (14.5,0.64) (16,0.64) (17,0.7) (19.5,0.72) (19.7,0.88) (20.2,0.78) (22.4,0.76) (22.6,0.94) (23,0.8) (24,0.75)};
\addplot[scm, cTriR] coordinates {(0,0.02) (0.1,0.35) (0.3,0.1) (0.6,0.02) (4,0.02) (4.4,0.07) (6.0,0.06) (6.5,0.2) (7.5,0.15) (8.6,0.15) (8.8,0.46) (9.3,0.38) (10.5,0.3) (11.2,0.45) (11.6,0.81) (12.2,0.6) (12.5,0.68) (12.8,0.62) (14.7,0.52) (15,0.5) (16.3,0.62) (16.5,0.83) (17.0,0.76) (19.5,0.76) (19.7,0.92) (20.2,0.79) (22.5,0.76) (22.8,0.98) (23.3,0.8) (24,0.76)};
\addplot[scm, cQuad] coordinates {(0,0.02) (0.1,0.52) (0.2,0.3) (0.4,0.06) (0.7,0.02) (4.0,0.02) (4.3,0.08) (5.0,0.08) (6.0,0.07) (6.3,0.21) (7.0,0.18) (7.5,0.14) (8.3,0.14) (8.6,0.46) (9.1,0.4) (10.0,0.35) (10.5,0.4) (11.0,0.45) (11.4,0.83) (11.7,0.62) (12,0.55) (13,0.6) (14.5,0.62) (15,0.56) (16,0.6) (16.9,0.88) (17.2,0.76) (19.3,0.78) (19.7,0.92) (20.2,0.8) (23.0,0.76) (23.1,0.98) (23.5,0.85) (24,0.76)};
\addplot[scm, cB93] coordinates {(0,0.01) (7.6,0.01) (7.8,0.06) (8.2,0.06) (8.3,0.09) (8.7,0.07) (9.0,0.05) (10.0,0.07) (10.5,0.08) (10.7,0.28) (11.0,0.22) (11.2,0.2) (11.5,0.15) (12.6,0.23) (12.9,0.52) (13.3,0.42) (13.6,0.5) (14.4,0.42) (14.7,0.3) (15.0,0.34) (16.1,0.43) (16.3,0.52) (16.9,0.47) (17.3,0.48) (17.6,0.78) (18.0,0.57) (18.2,0.65) (18.8,0.55) (20.4,0.56) (20.6,0.74) (21.0,0.68) (22.6,0.6) (22.8,0.76) (23.0,0.7) (23.3,0.52) (24,0.6)};
\node[plab] at (axis description cs:0.9,0.79) {b4};
\end{axis}

\pgfresetboundingbox
\path[use as bounding box] (0pt,0pt) rectangle (411.5pt,-717pt);
\end{tikzpicture}
\end{document}
